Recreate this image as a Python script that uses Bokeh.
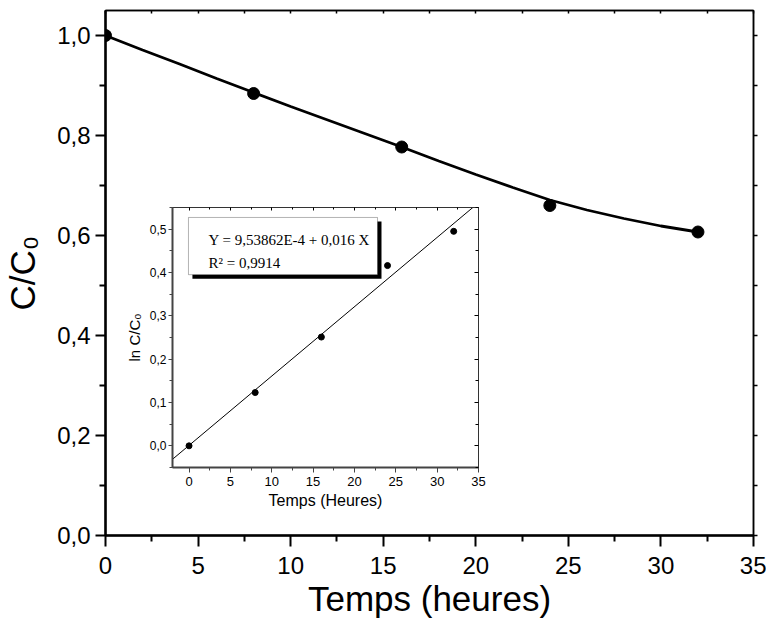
from bokeh.plotting import figure
from bokeh.models import (Range1d, FixedTicker, LinearAxis, Label,
                          CustomJSTickFormatter, BoxAnnotation)
from bokeh.layouts import column
from bokeh.embed import file_html
from bokeh.resources import INLINE

# ---------------- data ----------------
time_h = [0, 8, 16, 24, 32]
c_ratio = [1.0, 0.884, 0.777, 0.660, 0.607]

curve_t = [0, 2, 4, 6, 8, 10, 12, 14, 16, 18, 20, 22, 24, 26, 28, 30, 32]
curve_c = [1.000, 0.971, 0.943, 0.914, 0.886, 0.858, 0.831, 0.804, 0.777,
           0.749, 0.722, 0.696, 0.671, 0.651, 0.634, 0.619, 0.607]

ln_ratio = [0.0, 0.123, 0.251, 0.416, 0.495]
fit_t = [-2, 35]
fit_ln = [-0.031, 0.561]

x_ticks = [0, 5, 10, 15, 20, 25, 30, 35]
x_minor = [2.5, 7.5, 12.5, 17.5, 22.5, 27.5, 32.5]
y_ticks = [0.0, 0.2, 0.4, 0.6, 0.8, 1.0]
y_minor = [0.1, 0.3, 0.5, 0.7, 0.9]
right_ticks = [0.0, 0.1, 0.2, 0.3, 0.4, 0.5, 0.6, 0.7, 0.8, 0.9, 1.0]
top_ticks = [0, 2.5, 5, 7.5, 10, 12.5, 15, 17.5, 20, 22.5, 25, 27.5, 30, 32.5, 35]

in_y_ticks = [0.0, 0.1, 0.2, 0.3, 0.4, 0.5]
in_y_minor = [-0.05, 0.05, 0.15, 0.25, 0.35, 0.45, 0.55]

main_xlabel = "Temps (heures)"
main_ylabel = "C/C\u2080"
inset_xlabel = "Temps (Heures)"
inset_ylabel = "ln C/C\u2080"
eq_text = "Y = 9,53862E-4 + 0,016 X"
r2_text = "R\u00b2 = 0,9914"

SANS = "Liberation Sans"
comma_fmt = CustomJSTickFormatter(code="return tick.toFixed(1).replace('.', ',');")
blank_fmt = CustomJSTickFormatter(code="return '';")

# ---------------- main figure ----------------
p = figure(width=766, height=622, x_range=Range1d(0, 35), y_range=Range1d(0, 1.05),
           output_backend="svg", toolbar_location=None,
           min_border_left=105, min_border_right=13, min_border_top=10, min_border_bottom=87)
p.grid.visible = False
p.outline_line_color = "black"
p.outline_line_width = 1.5

xa = p.xaxis[0]
xa.ticker = FixedTicker(ticks=x_ticks, minor_ticks=x_minor)
xa.axis_line_width = 2.5
xa.major_tick_line_width = 2
xa.minor_tick_line_width = 2
xa.major_tick_out = 11
xa.major_tick_in = 0
xa.minor_tick_out = 6
xa.minor_tick_in = 0
xa.major_label_standoff = 10
xa.major_label_text_font = SANS
xa.major_label_text_font_size = "24px"
xa.major_label_text_color = "black"
xa.axis_label = main_xlabel
xa.axis_label_text_font = SANS
xa.axis_label_text_font_size = "35px"
xa.axis_label_text_font_style = "normal"
xa.axis_label_text_color = "black"
xa.axis_label_standoff = 2

ya = p.yaxis[0]
ya.ticker = FixedTicker(ticks=y_ticks, minor_ticks=y_minor)
ya.formatter = comma_fmt
ya.axis_line_width = 2.5
ya.major_tick_line_width = 2
ya.minor_tick_line_width = 2
ya.major_tick_out = 10
ya.major_tick_in = 0
ya.minor_tick_out = 6
ya.minor_tick_in = 0
ya.major_label_standoff = 5
ya.major_label_text_font = SANS
ya.major_label_text_font_size = "24px"
ya.major_label_text_color = "black"
ya.axis_label = main_ylabel
ya.axis_label_text_font = SANS
ya.axis_label_text_font_size = "35px"
ya.axis_label_text_font_style = "normal"
ya.axis_label_text_color = "black"
ya.axis_label_standoff = 12

ra = LinearAxis(ticker=FixedTicker(ticks=right_ticks), formatter=blank_fmt,
                major_tick_out=4, major_tick_in=0, minor_tick_out=0, minor_tick_in=0,
                major_label_standoff=0, axis_line_width=1.5, major_tick_line_width=1.5)
p.add_layout(ra, "right")
ta = LinearAxis(ticker=FixedTicker(ticks=top_ticks), formatter=blank_fmt,
                major_tick_out=0, major_tick_in=3, minor_tick_out=0, minor_tick_in=0,
                major_label_standoff=0, axis_line_width=1.5, major_tick_line_width=1.5)
p.add_layout(ta, "above")

p.line(curve_t, curve_c, line_width=2.8, line_color="black")
p.scatter(time_h, c_ratio, size=12, fill_color="black", line_color="black")

# ---------------- inset figure ----------------
inset = figure(width=424, height=317, x_range=Range1d(-2, 35), y_range=Range1d(-0.05, 0.55),
               output_backend="svg", toolbar_location=None,
               min_border_left=105, min_border_right=13, min_border_top=7, min_border_bottom=50,
               border_fill_color=None, background_fill_color="white")
inset.margin = (-422, 0, 105, 67)
inset.grid.visible = False
inset.outline_line_color = "#333333"
inset.outline_line_width = 1

ix = inset.xaxis[0]
ix.ticker = FixedTicker(ticks=x_ticks, minor_ticks=x_minor)
ix.axis_line_width = 2
ix.axis_line_color = "#444444"
ix.major_tick_line_color = "#444444"
ix.minor_tick_line_color = "#444444"
ix.major_tick_out = 5
ix.major_tick_in = 0
ix.minor_tick_out = 3
ix.minor_tick_in = 0
ix.major_label_standoff = 4
ix.major_label_text_font = SANS
ix.major_label_text_font_size = "13px"
ix.major_label_text_color = "black"
ix.axis_label = inset_xlabel
ix.axis_label_text_font = SANS
ix.axis_label_text_font_size = "16px"
ix.axis_label_text_font_style = "normal"
ix.axis_label_text_color = "black"
ix.axis_label_standoff = 3

iy = inset.yaxis[0]
iy.ticker = FixedTicker(ticks=in_y_ticks, minor_ticks=in_y_minor)
iy.formatter = comma_fmt
iy.axis_line_width = 2
iy.axis_line_color = "#444444"
iy.major_tick_line_color = "#444444"
iy.minor_tick_line_color = "#444444"
iy.major_tick_out = 4
iy.major_tick_in = 0
iy.minor_tick_out = 3
iy.minor_tick_in = 0
iy.major_label_standoff = 2
iy.major_label_text_font = SANS
iy.major_label_text_font_size = "12px"
iy.major_label_text_color = "black"
iy.axis_label = inset_ylabel
iy.axis_label_text_font = SANS
iy.axis_label_text_font_size = "15px"
iy.axis_label_text_font_style = "normal"
iy.axis_label_text_color = "black"
iy.axis_label_standoff = 4

ira = LinearAxis(ticker=FixedTicker(ticks=in_y_ticks, minor_ticks=in_y_minor),
                 formatter=blank_fmt,
                 major_tick_out=0, major_tick_in=4, minor_tick_out=0, minor_tick_in=3,
                 major_label_standoff=0, axis_line_width=1, axis_line_color="#333333")
inset.add_layout(ira, "right")
ita = LinearAxis(ticker=FixedTicker(ticks=x_ticks, minor_ticks=x_minor),
                 formatter=blank_fmt,
                 major_tick_out=0, major_tick_in=3, minor_tick_out=0, minor_tick_in=2,
                 major_label_standoff=0, axis_line_width=1, axis_line_color="#333333")
inset.add_layout(ita, "above")

inset.line(fit_t, fit_ln, line_width=1, line_color="black")
inset.scatter(time_h, ln_ratio, size=6, fill_color="black", line_color="black")

# equation box with shadow
inset.add_layout(BoxAnnotation(left=0.41, right=23.27, top=0.5175, bottom=0.3855,
                               fill_color="black", fill_alpha=1, line_color=None))
inset.add_layout(BoxAnnotation(left=-0.07, right=22.79, top=0.527, bottom=0.395,
                               fill_color="white", fill_alpha=1, line_color="black",
                               line_width=1))
inset.add_layout(Label(x=2.35, y=0.474, text=eq_text, text_font="Liberation Serif",
                       text_font_size="15px", text_baseline="alphabetic", text_color="black"))
inset.add_layout(Label(x=2.35, y=0.421, text=r2_text, text_font="Liberation Serif",
                       text_font_size="15px", text_baseline="alphabetic", text_color="black"))

layout = column(p, inset)
open("out.html", "w").write(file_html(layout, INLINE))
